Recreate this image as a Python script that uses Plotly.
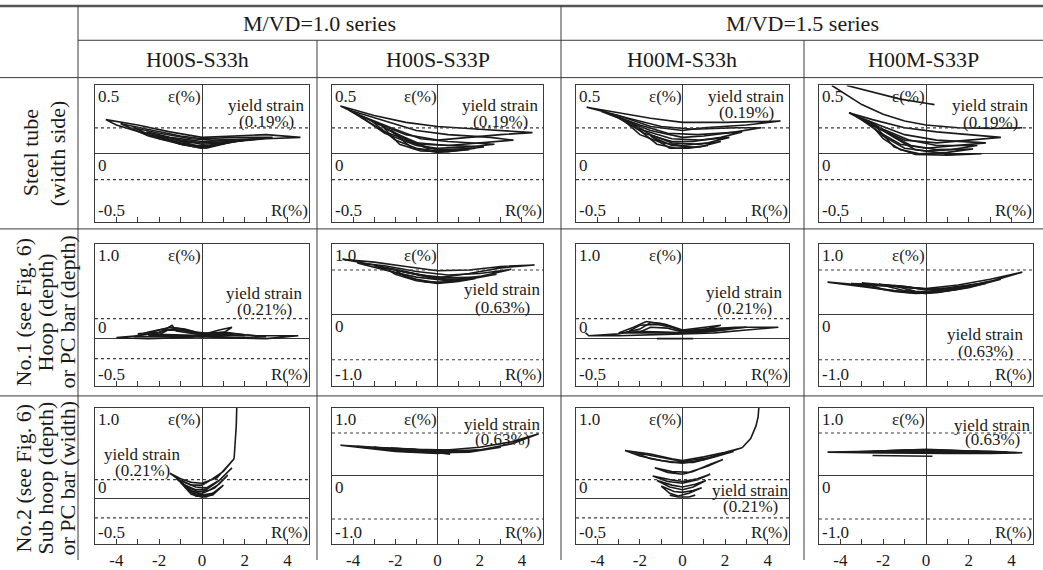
import plotly.graph_objects as go

W, H = 1043, 570
FONT = "Liberation Serif, Times New Roman, serif"
INK = "#1a1a1a"
LINE = "#3a3a3a"

# ---------------- text ----------------
series_titles = ["M/VD=1.0 series", "M/VD=1.5 series"]
specimens = ["H00S-S33h", "H00S-S33P", "H00M-S33h", "H00M-S33P"]
row_labels = [
    ["Steel tube", "(width side)"],
    ["No.1 (see Fig. 6)", "Hoop (depth)", "or PC bar (depth)"],
    ["No.2 (see Fig. 6)", "Sub hoop (depth)", "or PC bar (width)"],
]
x_minor_ticks = [-5, -4, -3, -2, -1, 0, 1, 2, 3, 4, 5]
x_tick_labels = [-4, -2, 0, 2, 4]

# yield strains (%)
yield_tube = 0.19
yield_hoop = 0.21
yield_pc = 0.63

# ---------------- curves: (R %, strain %) ----------------
tube_S33h = [
    [(-4.5,0.25),(-3,0.21),(-1.5,0.16),(0,0.12),(1.5,0.13),(3,0.14),(4.6,0.12),(3,0.11),(1.5,0.09),(0.2,0.04),(-1,0.08),(-2.5,0.14),(-4,0.21),(-4.5,0.25)],
    [(-3.8,0.22),(-2.5,0.18),(-1,0.13),(0,0.11),(1.5,0.12),(3.3,0.12),(2,0.1),(0.5,0.06),(0,0.04),(-1,0.07),(-2.5,0.13),(-3.8,0.22)],
    [(-3.2,0.19),(-2,0.15),(-0.5,0.11),(0.5,0.1),(2.5,0.11),(1.5,0.09),(0.3,0.06),(-0.5,0.06),(-2,0.11),(-3.2,0.19)],
    [(-2.6,0.16),(-1.5,0.12),(0,0.09),(2,0.1),(1,0.08),(0,0.05),(-1,0.07),(-2.6,0.16)],
    [(-2,0.13),(-1,0.1),(0,0.08),(1.5,0.09),(0.5,0.06),(0,0.04),(-1,0.07),(-2,0.13)],
    [(-1.5,0.11),(0,0.07),(1.2,0.08),(0,0.05),(-1.5,0.11)],
]
tube_S33P = [
    [(-4.6,0.35),(-3,0.28),(-1.5,0.23),(0,0.2),(2,0.18),(4.5,0.155),(3,0.14),(1.5,0.12),(0,0.1),(-1.5,0.14),(-3,0.23),(-4.6,0.35)],
    [(-4.2,0.32),(-2.5,0.24),(-1,0.17),(0.5,0.14),(2.5,0.12),(3.6,0.1),(2,0.08),(0.5,0.06),(-1,0.08),(-2.5,0.16),(-4.2,0.32)],
    [(-3.8,0.29),(-2.2,0.19),(-0.8,0.11),(0.5,0.09),(2.7,0.07),(1.5,0.05),(0,0.04),(-1,0.06),(-2.5,0.15),(-3.8,0.29)],
    [(-3.2,0.25),(-2,0.15),(-0.8,0.07),(0.5,0.06),(2.2,0.05),(1,0.03),(0,0.02),(-1,0.04),(-2,0.1),(-3.2,0.25)],
    [(-2.6,0.2),(-1.5,0.1),(-0.5,0.04),(0.5,0.03),(1.8,0.04),(0.5,0.015),(-0.8,0.02),(-1.8,0.07),(-2.6,0.2)],
    [(-2.2,0.17),(-1.2,0.08),(0,0.03),(1.5,0.03),(0,0.01),(-1.2,0.04),(-2.2,0.17)],
]
tube_M33h = [
    [(-4.5,0.34),(-3,0.3),(-1.5,0.26),(0,0.23),(2,0.23),(4.6,0.24),(3,0.21),(1,0.19),(0,0.17),(-1.5,0.2),(-3,0.28),(-4.5,0.34)],
    [(-3.8,0.31),(-2.5,0.26),(-1,0.2),(0.5,0.18),(2.5,0.19),(3.7,0.19),(2.5,0.16),(1,0.13),(0,0.12),(-1.5,0.17),(-3,0.26),(-3.8,0.31)],
    [(-3.2,0.28),(-2,0.21),(-0.7,0.15),(0.7,0.14),(2.8,0.16),(1.8,0.12),(0.5,0.09),(-0.5,0.09),(-1.8,0.15),(-3.2,0.28)],
    [(-2.8,0.25),(-1.8,0.17),(-0.5,0.11),(0.8,0.1),(2.2,0.12),(1.2,0.08),(0,0.06),(-1,0.08),(-2,0.14),(-2.8,0.25)],
    [(-2.4,0.22),(-1.5,0.14),(-0.5,0.08),(0.8,0.07),(1.8,0.09),(0.8,0.05),(-0.3,0.04),(-1.2,0.07),(-2.4,0.22)],
    [(-1.5,0.13),(-0.5,0.06),(0.5,0.05),(1.2,0.06),(0.3,0.04),(-0.6,0.04),(-1.5,0.13)],
]
tube_M33P = [
    [(-3.7,0.5),(-2.5,0.45),(-1.2,0.4),(0,0.37),(0.4,0.36)],
    [(-4.4,0.5),(-3.8,0.44),(-3,0.36),(-2,0.29),(-1,0.24),(0,0.21),(1.5,0.19),(3,0.185),(4.5,0.19)],
    [(-3.6,0.3),(-2.5,0.25),(-1,0.19),(0.5,0.16),(2,0.14),(3.5,0.12),(2,0.1),(0.5,0.08),(-1,0.1),(-2.3,0.19),(-3.6,0.3)],
    [(-3.3,0.28),(-2.2,0.21),(-1,0.14),(0.5,0.1),(2.8,0.08),(1.5,0.06),(0,0.04),(-1.2,0.07),(-2.2,0.16),(-3.3,0.28)],
    [(-3,0.26),(-2,0.18),(-0.8,0.1),(0.5,0.06),(2.4,0.06),(1.2,0.03),(0,0.02),(-1,0.04),(-2,0.13),(-3,0.26)],
    [(-2.7,0.24),(-1.8,0.15),(-0.7,0.06),(0.5,0.03),(2.2,0.035),(1,0.01),(-0.3,0.0),(-1.2,0.03),(-2,0.11),(-2.7,0.24)],
    [(-2.4,0.21),(-1.5,0.12),(-0.5,0.03),(1,0.0),(2.6,0.0),(1,-0.01),(-0.5,-0.005),(-1.5,0.05),(-2.4,0.21)],
]
no1_S33h = [
    [(-4,0.01),(-3,0.03),(-2,0.06),(-1.4,0.14),(-1.2,0.08),(-0.5,0.06),(0,0.04),(0.8,0.09),(1.4,0.12),(1.0,0.06),(2.5,0.03),(4.5,0.03),(3,0.0),(1,0.01),(0,0.02),(-1,0.01),(-2.5,0.0),(-4,0.01)],
    [(-3.2,0.02),(-2.5,0.07),(-1.8,0.1),(-1,0.09),(0,0.05),(1,0.07),(2,0.04),(3,0.02),(1.5,0.01),(0,0.03),(-1.5,0.02),(-3.2,0.02)],
    [(-2.5,0.03),(-2.2,0.08),(-1.5,0.12),(-0.8,0.1),(0,0.05),(0.8,0.06),(1.5,0.04),(0.5,0.02),(-1,0.03),(-2.5,0.03)],
    [(-2.0,0.04),(-1.6,0.09),(-0.7,0.08),(0,0.04),(1.2,0.05),(0,0.02),(-2,0.04)],
    [(-3,0.05),(-2,0.07),(-1.2,0.11),(-0.3,0.07),(0.5,0.05),(2,0.03),(0.5,0.03),(-1.5,0.04),(-3,0.05)],
]
no1_S33P = [
    [(-4.5,0.78),(-3,0.74),(-1.5,0.68),(0,0.62),(1.5,0.63),(3,0.68),(4.6,0.7),(3,0.66),(1.5,0.58),(0,0.52),(-1.5,0.6),(-3,0.7),(-4.5,0.78)],
    [(-3.8,0.73),(-2.5,0.69),(-1,0.61),(0.5,0.56),(2,0.58),(3.5,0.64),(2,0.54),(0.5,0.48),(-1,0.53),(-2.5,0.63),(-3.8,0.73)],
    [(-3,0.69),(-2,0.64),(-0.8,0.56),(0.5,0.52),(2,0.53),(2.8,0.57),(1.5,0.5),(0,0.45),(-1,0.5),(-2,0.59),(-3,0.69)],
    [(-2.5,0.66),(-1.5,0.6),(-0.5,0.54),(0.5,0.5),(1.8,0.51),(1,0.47),(0,0.44),(-1,0.48),(-2,0.57),(-2.5,0.66)],
    [(-2,0.63),(-1,0.57),(0,0.5),(1.2,0.49),(0.5,0.46),(-0.5,0.46),(-1.5,0.53),(-2,0.63)],
]
no1_M33h = [
    [(-4.55,0.06),(-4.4,0.03),(-3,0.05),(-2,0.1),(-1.5,0.17),(-1,0.16),(0,0.08),(1,0.1),(2.5,0.12),(4.5,0.12),(3,0.09),(1.5,0.06),(0,0.05),(-1.5,0.04),(-3,0.03),(-4.4,0.03)],
    [(-3,0.06),(-2.3,0.12),(-1.7,0.18),(-0.8,0.15),(0,0.09),(1,0.12),(1.8,0.14),(1,0.09),(0,0.06),(-1.5,0.06),(-3,0.06)],
    [(-2.5,0.08),(-2,0.14),(-1.2,0.15),(-0.5,0.12),(0,0.08),(1.5,0.1),(3,0.12),(1.5,0.08),(0,0.06),(-1,0.07),(-2.5,0.08)],
    [(-2,0.07),(-1.5,0.12),(-0.7,0.11),(0,0.07),(1.2,0.09),(2.2,0.1),(1,0.07),(0,0.06),(-2,0.07)],
    [(-1.2,0.0),(0.5,0.0)],
]
no1_M33P = [
    [(-4.6,0.46),(-3,0.42),(-1.5,0.4),(0,0.37),(1.5,0.42),(3,0.5),(4.5,0.6),(3,0.47),(1.5,0.38),(0,0.3),(-1.5,0.34),(-3,0.4),(-4.6,0.46)],
    [(-3.5,0.44),(-2.5,0.43),(-1,0.39),(0,0.36),(1,0.38),(2.5,0.44),(3.5,0.5),(2,0.38),(0.5,0.31),(-0.5,0.3),(-1.5,0.33),(-3.5,0.44)],
    [(-3,0.45),(-2,0.42),(-0.5,0.37),(0.5,0.35),(2,0.4),(2.8,0.44),(1.5,0.36),(0,0.3),(-1,0.32),(-2,0.36),(-3,0.45)],
    [(-2.2,0.43),(-1,0.4),(0,0.35),(1.5,0.38),(2.2,0.41),(1,0.34),(0,0.31),(-1,0.34),(-2.2,0.43)],
    [(-1.5,0.41),(-0.5,0.37),(0.5,0.34),(1.5,0.36),(0.5,0.32),(-0.5,0.33),(-1.5,0.41)],
]
no2_S33h = [
    [(1.5,0.44),(1.55,0.6),(1.6,0.8),(1.63,1.05)],
    [(-1.5,0.28),(-1,0.22),(-0.5,0.18),(0,0.17),(0.7,0.23),(1.5,0.44),(1,0.3),(0.5,0.22),(0,0.15),(-0.5,0.15),(-1,0.2),(-1.5,0.28)],
    [(-1.3,0.25),(-0.8,0.18),(-0.3,0.13),(0.2,0.12),(0.8,0.2),(1.4,0.34),(0.8,0.2),(0.2,0.1),(-0.3,0.1),(-0.8,0.15),(-1.3,0.25)],
    [(-1.2,0.22),(-0.7,0.13),(-0.2,0.08),(0.3,0.09),(0.8,0.16),(1.2,0.26),(0.6,0.12),(0,0.06),(-0.5,0.08),(-1.2,0.22)],
    [(-1.0,0.18),(-0.5,0.09),(0,0.04),(0.5,0.06),(1.0,0.15),(0.5,0.04),(0,0.02),(-0.5,0.05),(-1,0.18)],
    [(-0.8,0.13),(-0.3,0.05),(0.2,0.03),(0.6,0.07),(0.2,0.02),(-0.3,0.03),(-0.8,0.13)],
]
no2_S33P = [
    [(-4.6,0.45),(-3.5,0.43),(-2,0.39),(0,0.37),(2,0.42),(3.5,0.5),(4.8,0.62),(3.5,0.47),(2,0.38),(0,0.33),(-2,0.36),(-3.5,0.41),(-4.6,0.45)],
    [(-3.8,0.43),(-2.5,0.41),(-1,0.38),(0.5,0.36),(2,0.38),(3,0.42),(1.5,0.35),(0,0.34),(-1.5,0.36),(-3.8,0.43)],
    [(-3,0.42),(-2,0.4),(-0.5,0.38),(1,0.37),(2,0.38),(1,0.35),(-0.5,0.35),(-2,0.37),(-3,0.42)],
    [(-2.2,0.41),(-1,0.39),(0.5,0.38),(1.5,0.37),(0.5,0.35),(-1,0.36),(-2.2,0.41)],
    [(0,0.34),(0.6,0.32)],
]
no2_M33h = [
    [(2.8,0.56),(3.2,0.66),(3.45,0.8),(3.55,0.9),(3.6,1.05)],
    [(-2.7,0.53),(-1.5,0.49),(-0.5,0.44),(0,0.42),(1,0.46),(2,0.51),(2.8,0.56),(2,0.5),(1,0.43),(0,0.39),(-1,0.42),(-2,0.47),(-2.7,0.53)],
    [(-2.3,0.51),(-1.2,0.46),(0,0.41),(1.2,0.45),(2.4,0.52),(1.5,0.46),(0.5,0.4),(-0.5,0.4),(-1.5,0.44),(-2.3,0.51)],
    [(-1.3,0.34),(-0.5,0.3),(0.3,0.29),(1.2,0.36),(1.9,0.43),(1.3,0.38),(0.5,0.3),(0,0.27),(-0.7,0.29),(-1.3,0.34)],
    [(-1.4,0.25),(-0.6,0.21),(0,0.19),(0.7,0.22),(1.3,0.27),(0.7,0.21),(0,0.17),(-0.7,0.19),(-1.4,0.25)],
    [(-1.2,0.2),(-0.5,0.15),(0,0.13),(0.6,0.16),(1.1,0.2),(0.5,0.13),(0,0.1),(-0.6,0.13),(-1.2,0.2)],
    [(-1.0,0.14),(-0.4,0.08),(0,0.07),(0.5,0.09),(0.9,0.12),(0.3,0.06),(-0.2,0.03),(-0.6,0.06),(-1.0,0.14)],
    [(-0.6,0.04),(-0.2,0.02),(0.3,0.02),(0.6,0.04)],
]
no2_M33P = [
    [(-4.6,0.35),(-3,0.36),(-1,0.37),(1,0.37),(3,0.36),(4.5,0.34),(3,0.33),(1,0.33),(-1,0.33),(-3,0.34),(-4.6,0.35)],
    [(-3.5,0.35),(-2,0.37),(0,0.38),(2,0.37),(3.8,0.35),(2,0.34),(0,0.34),(-2,0.34),(-3.5,0.35)],
    [(-2.5,0.36),(-1,0.38),(0.5,0.38),(2.5,0.36),(1,0.35),(-1,0.35),(-2.5,0.36)],
    [(-1.8,0.37),(0,0.39),(1.8,0.37),(0,0.36),(-1.8,0.37)],
    [(-2.5,0.3),(-1,0.3),(0.3,0.29)],
]

panel_curves = [
    [tube_S33h, tube_S33P, tube_M33h, tube_M33P],
    [no1_S33h, no1_S33P, no1_M33h, no1_M33P],
    [no2_S33h, no2_S33P, no2_M33h, no2_M33P],
]
# yield label placement (R centre, line-1 strain, line-2 strain)
yield_label_pos = [
    [(3.0, 0.355, 0.235), (3.0, 0.35, 0.235), (3.0, 0.42, 0.30), (3.0, 0.35, 0.23)],
    [(2.9, 0.47, 0.305), (3.1, 0.35, 0.11), (2.9, 0.49, 0.32), (2.8, -0.28, -0.52)],
    [(-2.8, 0.49, 0.305), (3.1, 0.75, 0.53), (3.2, 0.09, -0.09), (3.1, 0.74, 0.53)],
]

# ---------------- geometry (pixels) ----------------
col_px = [(95, 309), (332, 543), (576, 789), (819, 1033)]
row_px = [(87, 226), (248, 393), (415, 554)]


def px(x):
    return x / W


def py(y):
    return 1 - y / H


fig = go.Figure()
layout = dict(
    width=W, height=H, margin=dict(l=0, r=0, t=0, b=0),
    paper_bgcolor="white", plot_bgcolor="white", showlegend=False,
    font=dict(family=FONT, color=INK),
)
shapes = []
annotations = []

for r in range(3):
    for c in range(4):
        i = r * 4 + c + 1
        sfx = "" if i == 1 else str(i)
        if r == 0:
            yr, yv = [-0.5, 0.5], yield_tube
        elif c in (0, 2):
            yr, yv = [-0.5, 1.0], yield_hoop
        else:
            yr, yv = [-1.0, 1.0], yield_pc
        x0, x1 = col_px[c]
        t0, t1 = row_px[r]
        layout["xaxis" + sfx] = dict(
            domain=[px(x0), px(x1)], range=[-5, 5], anchor="y" + sfx,
            showgrid=False, zeroline=True, zerolinecolor=LINE, zerolinewidth=1,
            showline=True, mirror=True, linecolor=LINE, linewidth=1,
            tickmode="array", tickvals=x_minor_ticks,
            ticktext=[(str(v) if v in x_tick_labels else "") for v in x_minor_ticks],
            ticks="inside", ticklen=5, tickcolor=LINE, tickwidth=1,
            showticklabels=(r == 2), tickfont=dict(family=FONT, size=17, color=INK),
            fixedrange=True,
        )
        layout["yaxis" + sfx] = dict(
            domain=[py(t1), py(t0)], range=yr, anchor="x" + sfx,
            showgrid=False, zeroline=True, zerolinecolor=LINE, zerolinewidth=1,
            showline=True, mirror=True, linecolor=LINE, linewidth=1,
            ticks="", showticklabels=False, fixedrange=True,
        )
        xr, yrf = "x" + sfx, "y" + sfx
        for s in (yv, -yv):
            shapes.append(dict(type="line", xref=xr, yref=yrf, x0=-5, x1=5, y0=s, y1=s,
                               line=dict(color=LINE, width=1.2, dash="dot")))
        for loop in panel_curves[r][c]:
            fig.add_trace(go.Scatter(
                x=[p[0] for p in loop], y=[p[1] for p in loop], mode="lines",
                line=dict(color=INK, width=1.6), xaxis=xr, yaxis=yrf,
                hoverinfo="skip", showlegend=False,
            ))
        tf = dict(family=FONT, size=17, color=INK)
        top_txt = "%.1f" % yr[1]
        bot_txt = "%.1f" % yr[0]
        annotations += [
            dict(x=-5, y=yr[1], xref=xr, yref=yrf, text=top_txt, showarrow=False,
                 xanchor="left", yanchor="top", xshift=1, font=tf),
            dict(x=0, y=yr[1], xref=xr, yref=yrf, text="ε(%)", showarrow=False,
                 xanchor="right", yanchor="top", xshift=1, font=tf),
            dict(x=-5, y=0, xref=xr, yref=yrf, text="0", showarrow=False,
                 xanchor="left", yanchor=("bottom" if yr[0] == -0.5 and r > 0 else "top"),
                 xshift=1, font=tf),
            dict(x=-5, y=yr[0], xref=xr, yref=yrf, text=bot_txt, showarrow=False,
                 xanchor="left", yanchor="bottom", xshift=1, font=tf),
            dict(x=5, y=yr[0], xref=xr, yref=yrf, text="R(%)", showarrow=False,
                 xanchor="right", yanchor="bottom", xshift=1, font=tf),
        ]
        xc, ya, yb = yield_label_pos[r][c]
        annotations += [
            dict(x=xc, y=ya, xref=xr, yref=yrf, text="yield strain", showarrow=False,
                 xanchor="center", yanchor="middle", font=tf, borderpad=0),
            dict(x=xc, y=yb, xref=xr, yref=yrf, text="(%.2f%%)" % yv, showarrow=False,
                 xanchor="center", yanchor="middle", font=tf, borderpad=0),
        ]

# ---------------- table rules ----------------
def hline(y, xa, xb, w=1.0, col=LINE):
    shapes.append(dict(type="line", xref="paper", yref="paper", x0=px(xa), x1=px(xb),
                       y0=py(y), y1=py(y), line=dict(color=col, width=w)))


def vline(x, ya, yb, w=1.0):
    shapes.append(dict(type="line", xref="paper", yref="paper", x0=px(x), x1=px(x),
                       y0=py(ya), y1=py(yb), line=dict(color=LINE, width=w)))


hline(6, 0, W, 2.5, "#555555")
hline(41, 78, W)
hline(79, 0, W)
hline(233, 0, W)
hline(403, 0, W)
vline(78, 6, H)
vline(561, 6, H)
vline(317, 41, H)
vline(804, 41, H)

hf = dict(family=FONT, size=22, color=INK)
annotations += [
    dict(x=px(319), y=py(24), xref="paper", yref="paper", text=series_titles[0],
         showarrow=False, font=hf, xanchor="center", yanchor="middle"),
    dict(x=px(802), y=py(24), xref="paper", yref="paper", text=series_titles[1],
         showarrow=False, font=hf, xanchor="center", yanchor="middle"),
]
for k, cx in enumerate([197, 438, 682, 923]):
    annotations.append(dict(x=px(cx), y=py(61), xref="paper", yref="paper",
                            text=specimens[k], showarrow=False, font=hf,
                            xanchor="center", yanchor="middle"))

row_label_x = [[30, 57], [23, 45, 67], [23, 45, 67]]
row_label_y = [156, 318, 487]
rf = dict(family=FONT, size=22, color=INK)
for r in range(3):
    for k, t in enumerate(row_labels[r]):
        annotations.append(dict(x=px(row_label_x[r][k]), y=py(row_label_y[r]),
                                xref="paper", yref="paper", text=t, textangle=-90,
                                showarrow=False, font=rf,
                                xanchor="center", yanchor="middle"))

layout["shapes"] = shapes
layout["annotations"] = annotations
fig.update_layout(**layout)
fig.write_html("out.html", config={"displayModeBar": False},
               post_script="document.body.style.margin='0';document.body.style.overflow='hidden';")
